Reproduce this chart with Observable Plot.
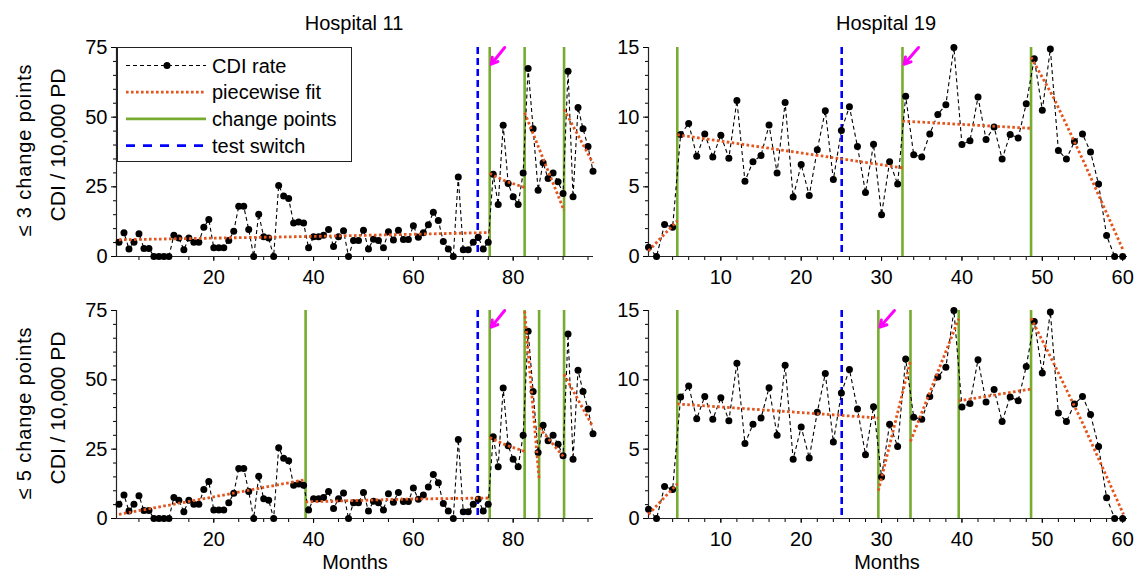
<!DOCTYPE html>
<html>
<head>
<meta charset="utf-8">
<script src="https://cdn.jsdelivr.net/npm/d3@7"></script>
<script src="https://cdn.jsdelivr.net/npm/@observablehq/plot@0.6"></script>
<style>
  html, body { margin: 0; padding: 0; background: white; }
  #wrap { position: relative; width: 1134px; height: 572px; overflow: hidden; font-family: "Liberation Sans", Arial, sans-serif; color: black; }
  .panel { position: absolute; }
  .panel svg { overflow: visible; }
  .txt { position: absolute; font-size: 20px; white-space: nowrap; line-height: 1; }
  .rot { transform: translate(-50%, -50%) rotate(-90deg); }
  .ctr { transform: translate(-50%, -50%); }
  .rowlab { letter-spacing: 0.9px; }
  .ylab { font-size: 21px; }
  #legend { position: absolute; left: 117px; top: 47px; width: 235px; height: 115px; border: 1px solid #222; background: white; box-sizing: border-box; }
</style>
</head>
<body>
<div id="wrap"></div>
<script>
// ---------------- data ----------------
const h11Rates = [5.1, 8.5, 2.7, 5.1, 8.2, 2.9, 2.9, 0, 0, 0, 0, 7.6, 6.6, 2.4, 6.6, 5.1, 5.1, 10.5, 13.3, 3.1,
  3.1, 3.1, 5.7, 9.1, 18, 18, 9.7, 0, 15.2, 7.1, 6.6, 0, 25.5, 21.7, 20.8, 12, 12.4, 12, 3.1, 7.1,
  7.1, 7.6, 9.7, 3.6, 7.1, 9.2, 0, 5.7, 5.7, 9.4, 2.7, 6.2, 5.7, 3.1, 8.9, 5.9, 9.4, 6.1, 6.1, 11,
  6.9, 8.5, 11.4, 15.9, 12.9, 5.4, 2.7, 0, 28.5, 2.4, 2.4, 5.1, 6.9, 2.7, 5.1, 29.5, 18.7, 47.1, 26.2, 21.4,
  18.7, 30, 67.5, 45.8, 23.8, 33.6, 28, 30, 26.8, 22.6, 66.5, 21.4, 53.5, 45.8, 39.5, 30.6];

const h19Rates = [0.67, 0, 2.3, 2.1, 8.76, 9.55, 7.2, 8.8, 7.15, 8.7, 7.05, 11.2, 5.4, 6.8, 7.25, 9.43, 6.0, 11.06, 4.27, 6.6,
  4.37, 7.66, 10.46, 5.52, 9.05, 10.75, 7.9, 4.6, 8.06, 3.0, 6.8, 5.2, 11.5, 7.3, 7.15, 8.8, 10.2, 10.9, 15, 8.04,
  8.3, 11.45, 8.4, 9.3, 7.0, 8.76, 8.5, 10.97, 14.2, 10.5, 14.9, 7.6, 7.0, 8.25, 8.8, 7.5, 5.2, 1.5, 0, 0];

// piecewise fits: [month, rate] points per segment
const h11Fit3 = [
  [[1, 6.0], [20, 6.6], [40, 7.2], [58, 7.9], [75.3, 8.6]],
  [[75.3, 29.8], [78.5, 27], [82.3, 24.8]],
  [[82.3, 51.6], [90.2, 16.5]],
  [[90.2, 52.8], [96, 33.5]]
];
const h11Fit5 = [
  [[1, 1.5], [19.4, 7.6], [29.4, 11], [38.4, 14]],
  [[38.4, 6.0], [59, 7.0], [75.3, 7.4]],
  [[75.3, 29.2], [78.5, 26.5], [82.3, 24.2]],
  [[82.3, 74.8], [85.2, 14.2]],
  [[85.2, 32.8], [90.2, 22]],
  [[90.2, 52], [96, 33]]
];
const h19Fit3 = [
  [[1, 0.4], [4.58, 2.57]],
  [[4.58, 8.74], [32.6, 6.36]],
  [[32.6, 9.72], [48.6, 9.2]],
  [[48.6, 14.3], [51.5, 11.3], [55, 7.0], [60.1, 0.4]]
];
const h19Fit5 = [
  [[1, 0.3], [4.58, 2.5]],
  [[4.58, 8.26], [29.6, 7.25]],
  [[29.6, 2.0], [33.6, 11.4]],
  [[33.6, 5.56], [39.6, 14.4]],
  [[39.6, 8.48], [48.6, 9.34]],
  [[48.6, 14.45], [51.5, 11.1], [55, 6.9], [60.1, 0.3]]
];

const h11Change3 = [75.3, 82.3, 90.2];
const h11Change5 = [38.4, 75.3, 82.3, 85.2, 90.2];
const h19Change3 = [4.58, 32.6, 48.6];
const h19Change5 = [4.58, 29.6, 33.6, 39.6, 48.6];

const h11TestSwitch = 72.9;
const h19TestSwitch = 25.04;

const h11Arrow3 = [75.3], h11Arrow5 = [75.3];
const h19Arrow3 = [32.6], h19Arrow5 = [29.6];

const h11XTicks = [20, 40, 60, 80];
const h11XMinor = d3.range(5, 96, 5);
const h11YTicks = [0, 25, 50, 75];
const h11YMinor = d3.range(0, 76, 5);
const h19XTicks = [10, 20, 30, 40, 50, 60];
const h19XMinor = d3.range(2, 61, 2);
const h19YTicks = [0, 5, 10, 15];
const h19YMinor = d3.range(0, 16, 1);

const titles = ["Hospital 11", "Hospital 19"];
const rowLabels = ["≤ 3 change points", "≤ 5 change points"];
const yLabel = "CDI / 10,000 PD";
const xLabel = "Months";

// ---------------- styles ----------------
const C_ORANGE = "#e4541c";
const C_GREEN = "#77ac30";
const C_BLUE = "#0000ff";
const C_MAGENTA = "#ff00ff";
const FONT = "'Liberation Sans', Arial, sans-serif";

function panel(o) {
  const pts = o.rates.map((v, i) => ({month: i + 1, rate: v}));
  const fitRows = o.fit.flatMap((seg, k) => seg.map(([m, v]) => ({seg: k, month: m, rate: v})));
  const yMax = o.yDomain[1];
  return Plot.plot({
    width: o.w, height: o.h,
    marginLeft: o.ml, marginRight: o.mr, marginTop: o.mt, marginBottom: o.mb,
    x: {domain: o.xDomain},
    y: {domain: o.yDomain},
    style: {fontFamily: FONT, fontSize: "20px", background: "transparent", color: "black", overflow: "visible"},
    marks: [
      Plot.axisX(o.xMinor, {tickSize: 4, tickFormat: () => "", label: null}),
      Plot.axisX(o.xTicks, {tickSize: 5, tickPadding: 8, label: null, fontSize: 20}),
      Plot.axisY(o.yMinor, {tickSize: 3, tickFormat: () => "", label: null}),
      Plot.axisY(o.yTicks, {tickSize: 5, tickPadding: 4, label: null, fontSize: 20}),
      Plot.ruleX([o.xDomain[0]], {stroke: "#222", strokeWidth: 1.2}),
      Plot.ruleY([o.yDomain[0]], {stroke: "#222", strokeWidth: 1.2}),
      Plot.ruleX(o.change, {stroke: C_GREEN, strokeWidth: 2.6}),
      Plot.ruleX([o.test], {stroke: C_BLUE, strokeWidth: 2.6, strokeDasharray: "7,4"}),
      Plot.line(pts, {x: "month", y: "rate", stroke: "black", strokeWidth: 1.1, strokeDasharray: "4,3", strokeLinecap: "butt"}),
      Plot.dot(pts, {x: "month", y: "rate", r: 3.5, fill: "black", stroke: "none"}),
      Plot.line(fitRows, {x: "month", y: "rate", z: "seg", stroke: C_ORANGE, strokeWidth: 2.8, strokeDasharray: "2.6,2.4", strokeLinecap: "butt", strokeLinejoin: "miter"}),
      Plot.arrow(o.arrow, {
        x1: d => d + o.arrowDx, y1: yMax,
        x2: d => d + o.arrowDx * 0.1, y2: yMax * 0.92,
        stroke: C_MAGENTA, strokeWidth: 3, headLength: 14
      })
    ]
  });
}

const wrap = document.getElementById("wrap");
function place(node, left, top) {
  const d = document.createElement("div");
  d.className = "panel";
  d.style.left = left + "px";
  d.style.top = top + "px";
  d.appendChild(node);
  wrap.appendChild(d);
}
function text(str, x, y, cls) {
  const d = document.createElement("div");
  d.className = "txt " + cls;
  d.style.left = x + "px";
  d.style.top = y + "px";
  d.textContent = str;
  wrap.appendChild(d);
}

const h11Common = {xDomain: [0.5, 96.1], yDomain: [0, 75], xTicks: h11XTicks, xMinor: h11XMinor, yTicks: h11YTicks, yMinor: h11YMinor, arrowDx: 3, rates: h11Rates, test: h11TestSwitch, w: 560, ml: 56, mr: 27, mt: 17};
const h19Common = {xDomain: [1, 60.6], yDomain: [0, 15], xTicks: h19XTicks, xMinor: h19XMinor, yTicks: h19YTicks, yMinor: h19YMinor, arrowDx: 2, rates: h19Rates, test: h19TestSwitch, w: 534, ml: 48, mr: 7, mt: 17};

place(panel({...h11Common, h: 265, mb: 39, fit: h11Fit3, change: h11Change3, arrow: h11Arrow3}), 60, 30);
place(panel({...h19Common, h: 265, mb: 39, fit: h19Fit3, change: h19Change3, arrow: h19Arrow3}), 600, 30);
place(panel({...h11Common, h: 260, mb: 35, fit: h11Fit5, change: h11Change5, arrow: h11Arrow5}), 60, 293);
place(panel({...h19Common, h: 260, mb: 35, fit: h19Fit5, change: h19Change5, arrow: h19Arrow5}), 600, 293);

// titles and labels
text(titles[0], 354, 23, "ctr");
text(titles[1], 886, 23, "ctr");
text(xLabel, 355, 562, "ctr");
text(xLabel, 887, 562, "ctr");
text(rowLabels[0], 24, 150, "rot rowlab");
text(rowLabels[1], 24, 413, "rot rowlab");
text(yLabel, 57, 145, "rot ylab");
text(yLabel, 57, 408, "rot ylab");

// legend
const legendItems = [
  {label: "CDI rate", kind: "data"},
  {label: "piecewise fit", kind: "fit"},
  {label: "change points", kind: "cp"},
  {label: "test switch", kind: "ts"}
];
const leg = document.createElement("div");
leg.id = "legend";
const ns = "http://www.w3.org/2000/svg";
const lsvg = document.createElementNS(ns, "svg");
lsvg.setAttribute("width", 233); lsvg.setAttribute("height", 113);
lsvg.style.position = "absolute"; lsvg.style.left = "0"; lsvg.style.top = "0";
legendItems.forEach((it, i) => {
  const cy = 17.5 + i * 26.7;
  const ln = document.createElementNS(ns, "line");
  ln.setAttribute("x1", 8); ln.setAttribute("x2", 88);
  ln.setAttribute("y1", cy); ln.setAttribute("y2", cy);
  if (it.kind === "data") { ln.setAttribute("stroke", "black"); ln.setAttribute("stroke-width", 1.1); ln.setAttribute("stroke-dasharray", "4,3"); }
  if (it.kind === "fit") { ln.setAttribute("stroke", C_ORANGE); ln.setAttribute("stroke-width", 2.8); ln.setAttribute("stroke-dasharray", "2.6,2.4"); }
  if (it.kind === "cp") { ln.setAttribute("stroke", C_GREEN); ln.setAttribute("stroke-width", 2.6); }
  if (it.kind === "ts") { ln.setAttribute("stroke", C_BLUE); ln.setAttribute("stroke-width", 2.6); ln.setAttribute("stroke-dasharray", "9,8"); }
  lsvg.appendChild(ln);
  if (it.kind === "data") {
    const c = document.createElementNS(ns, "circle");
    c.setAttribute("cx", 49); c.setAttribute("cy", cy); c.setAttribute("r", 3.5); c.setAttribute("fill", "black");
    lsvg.appendChild(c);
  }
  const t = document.createElementNS(ns, "text");
  t.setAttribute("x", 94); t.setAttribute("y", cy); t.setAttribute("dy", "0.36em");
  t.setAttribute("font-size", 20); t.setAttribute("font-family", FONT);
  t.textContent = it.label;
  lsvg.appendChild(t);
});
leg.appendChild(lsvg);
wrap.appendChild(leg);
</script>
</body>
</html>
